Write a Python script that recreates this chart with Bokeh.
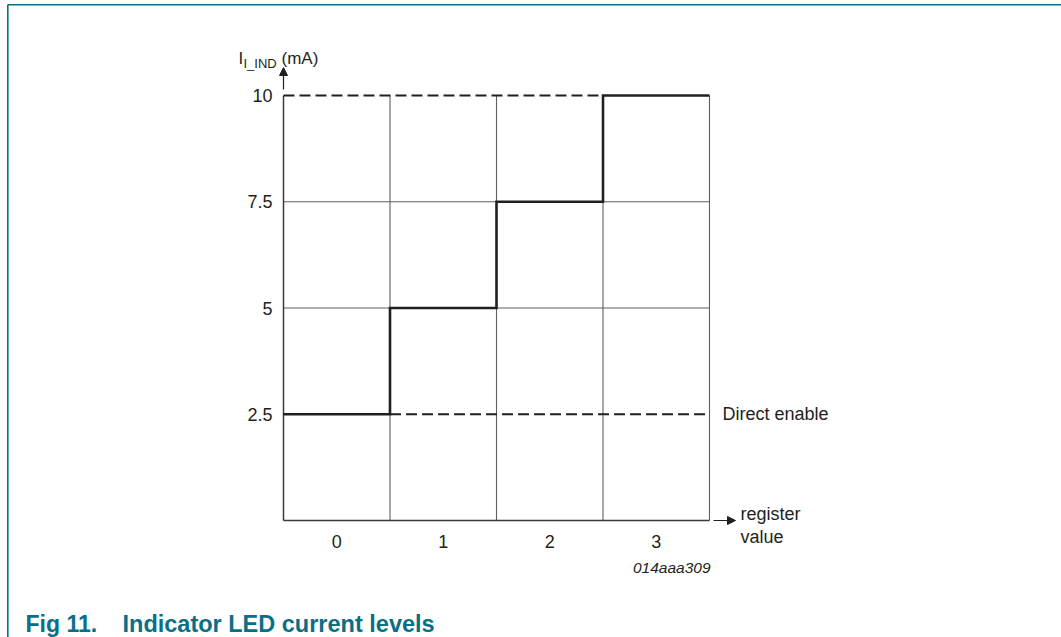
from bokeh.plotting import figure
from bokeh.models import Range1d, Arrow, NormalHead
from bokeh.core.properties import value
from bokeh.embed import file_html
from bokeh.resources import INLINE

# ---------------- data ----------------
register_values = [0, 1, 2, 3]
current_mA = [2.5, 5.0, 7.5, 10.0]
y_ticks = [2.5, 5.0, 7.5, 10.0]
y_tick_labels = ["2.5", "5", "7.5", "10"]
x_tick_labels = ["0", "1", "2", "3"]
y_label_main = "I"
y_label_sub = "I_IND"
y_label_unit = "(mA)"
x_label_lines = ["register", "value"]
min_note = "Direct enable"
figure_code = "014aaa309"
caption_number = "Fig 11."
caption_title = "Indicator LED current levels"

# ---------------- layout ----------------
W, H = 1061, 637
PX_CAT = 106.5          # pixels per register step
PX_MA = 42.5            # pixels per mA
SX0, SY0 = 283, 520     # pixel of left chart edge / zero current

FONT = "Liberation Sans"
INK = "#231f20"
GRID = "#5e5e5e"
TEAL = "#0a6f86"

x_lo = register_values[0] - 0.5


def dx(s):
    return x_lo + (s - SX0) / PX_CAT


def dy(s):
    return (SY0 - s) / PX_MA


p = figure(width=W, height=H, output_backend="svg", toolbar_location=None,
           x_range=Range1d(dx(0), dx(W)), y_range=Range1d(dy(H), dy(0)),
           min_border=0, x_axis_location=None, y_axis_location=None)
p.grid.visible = False
p.outline_line_color = None
p.background_fill_color = "white"
p.border_fill_color = "white"

# ---------------- chart geometry from data ----------------
lefts = [v - 0.5 for v in register_values]
rights = [v + 0.5 for v in register_values]
x_hi = rights[-1]
y_top = max(current_mA)
y_min = min(current_mA)

# vertical grid lines at internal boundaries + right border
p.segment(x0=rights, y0=[0] * len(rights), x1=rights, y1=[y_top] * len(rights),
          line_color=GRID, line_width=1.1)
# horizontal grid lines at intermediate levels
mid_levels = [t for t in y_ticks if t not in (y_min, y_top)]
p.segment(x0=[x_lo] * len(mid_levels), y0=mid_levels, x1=[x_hi] * len(mid_levels),
          y1=mid_levels, line_color=GRID, line_width=1.1)
# axis lines
p.segment(x0=[x_lo, x_lo], y0=[0, 0], x1=[x_lo, x_hi], y1=[y_top, 0],
          line_color="#3a3a3a", line_width=1.5)
# dashed reference levels
p.segment(x0=[x_lo, rights[0]], y0=[y_top, y_min], x1=[lefts[-1], x_hi], y1=[y_top, y_min],
          line_color=INK, line_width=2.2, line_dash="11 5")
# staircase of current levels
step_x, step_y = [], []
for l, r, c in zip(lefts, rights, current_mA):
    step_x += [l, r]
    step_y += [c, c]
p.line(step_x, step_y, line_color=INK, line_width=2.6, line_join="miter")

# arrows
p.add_layout(Arrow(x_start=x_lo, y_start=y_top + 6 / PX_MA, x_end=x_lo, y_end=y_top + 28 / PX_MA,
                   line_color=INK, line_width=1.2,
                   end=NormalHead(size=8, fill_color=INK, line_color=INK, line_width=1)))
p.add_layout(Arrow(x_start=x_hi + 4 / PX_CAT, y_start=0, x_end=x_hi + 26 / PX_CAT, y_end=0,
                   line_color=INK, line_width=1.2,
                   end=NormalHead(size=8, fill_color=INK, line_color=INK, line_width=1)))


def txt(texts, xs, ys, size="18px", align="left", baseline="alphabetic", style="normal",
        color=INK):
    p.text(x=xs, y=ys, text=texts, text_font=value(FONT), text_font_size=size,
           text_align=align, text_baseline=baseline, text_font_style=style,
           text_color=color)


# tick labels
txt(y_tick_labels, [dx(272)] * len(y_ticks), y_ticks, align="right", baseline="middle")
txt(x_tick_labels, register_values, [dy(541)] * len(register_values), align="center",
    baseline="middle")
# y-axis label
txt([y_label_main], [dx(238)], [dy(58)], size="17px")
txt([y_label_sub], [dx(243)], [dy(63)], size="13px")
txt([y_label_unit], [dx(281)], [dy(58)], size="17px")
# x-axis label
txt([x_label_lines[0]], [dx(740)], [dy(513)])
txt([x_label_lines[1]], [dx(740)], [dy(536)])
# reference note
txt([min_note], [dx(722)], [y_min], baseline="middle")
# figure code
txt([figure_code], [x_hi + 1 / PX_CAT], [dy(567)], size="15.5px", align="right",
    style="italic")
# caption
txt([caption_number], [dx(25)], [dy(623)], size="23px", style="bold", color=TEAL)
txt([caption_title], [dx(122)], [dy(623)], size="23.5px", style="bold", color=TEAL)

# teal frame of the figure
p.segment(x0=[dx(7.3), dx(7.3)], y0=[dy(4.3), dy(4.3)], x1=[dx(7.3), dx(W + 5)],
          y1=[dy(H + 5), dy(4.3)], line_color=TEAL, line_width=1.6)

open("out.html", "w").write(file_html(p, INLINE))
